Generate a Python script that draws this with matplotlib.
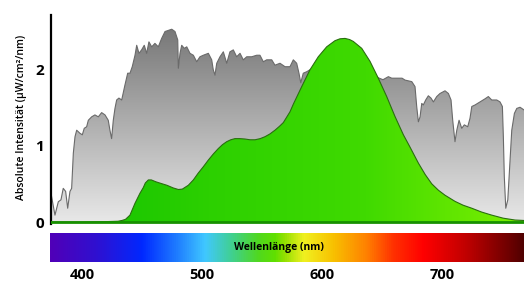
import numpy as np
import matplotlib
matplotlib.use("Agg")
import matplotlib.pyplot as plt
from matplotlib.colors import LinearSegmentedColormap

plt.rcParams['font.family'] = ['Open Sans', 'DejaVu Sans']

# solar spectrum (grey)
sun_nm = [374.2, 377.5, 380.3, 382.5, 384.4, 386.4, 388.1, 390, 391.4, 392.8, 394.2, 395.6,
          398.3, 400.3, 401.9, 403.9, 405.3, 408.1, 410.8, 413.6, 416.4, 419.2, 421.9, 423.3,
          424.7, 426.1, 427.5, 428.9, 430.8, 433.1, 435.8, 438.1, 440, 441.9, 444.2, 445.6,
          447.5, 449.7, 451.9, 453.9, 455.8, 458.1, 460.8, 463.6, 466.4, 469.2, 474.8, 477.5,
          479.8, 480.3, 481.7, 483.1, 485.3, 487.3, 490, 492.8, 495.6, 498.3, 501.1, 505.3,
          508.1, 509.4, 510.8, 512.3, 515, 517.8, 520.6, 523.3, 526.1, 528.9, 531.7, 534.4,
          537.3, 541.4, 545.6, 548.3, 551.1, 553.9, 558.1, 560.8, 565, 569.2, 573.3, 576.1,
          578.9, 580.8, 582.3, 584.4, 587.3, 590, 600, 620, 640, 650.8, 655.3, 658.1, 660.8,
          663.6, 666.7, 669.2, 674.8, 677.5, 678.9, 680.3, 681.7, 683.1, 684.4, 686.4, 688.6,
          690.8, 692.8, 695.6, 698.3, 702.5, 705.3, 707.5, 708.9, 710.8, 712.3, 714.2, 716.4,
          718.6, 721.4, 723.3, 724.8, 727.5, 731.7, 735.8, 738.6, 741.4, 745.6, 748.3, 750.3,
          751.1, 751.9, 753.1, 754.8, 756.7, 758.1, 760.3, 762.3, 765, 768.3]
sun_val = [0.375, 0.09, 0.265, 0.29, 0.44, 0.40, 0.18, 0.40, 0.44, 0.90, 1.115, 1.20,
           1.16, 1.14, 1.225, 1.245, 1.33, 1.375, 1.40, 1.375, 1.43, 1.40, 1.33, 1.20,
           1.09, 1.33, 1.485, 1.595, 1.62, 1.595, 1.79, 1.945, 1.945, 2.03, 2.18, 2.31,
           2.205, 2.25, 2.31, 2.205, 2.355, 2.29, 2.335, 2.29, 2.40, 2.49, 2.52, 2.49,
           2.38, 2.01, 2.205, 2.31, 2.27, 2.29, 2.205, 2.18, 2.095, 2.16, 2.18, 2.205,
           2.12, 1.99, 1.92, 2.075, 2.16, 2.225, 2.075, 2.225, 2.25, 2.16, 2.205, 2.12,
           2.16, 2.16, 2.18, 2.18, 2.095, 2.12, 2.12, 2.05, 2.075, 2.03, 2.03, 2.12,
           2.075, 1.945, 1.82, 1.945, 1.965, 1.99, 1.97, 1.95, 1.93, 1.86, 1.90, 1.88, 1.88,
           1.88, 1.88, 1.855, 1.835, 1.77, 1.51, 1.31, 1.375, 1.55, 1.53, 1.595, 1.65,
           1.62, 1.57, 1.64, 1.68, 1.715, 1.68, 1.595, 1.33, 1.05, 1.20, 1.33, 1.225,
           1.27, 1.245, 1.355, 1.51, 1.53, 1.57, 1.61, 1.64, 1.595, 1.595, 1.57, 1.51,
           1.115, 0.59, 0.18, 0.29, 0.81, 1.20, 1.42, 1.485, 1.50, 1.465]

# lamp spectrum (green)
lamp_nm = [374.2, 400, 420, 430, 433.3, 436.3, 440, 444.2, 448.3, 451.1, 452.8, 455.3,
           457.8, 461.7, 466.7, 470.8, 476.1, 480.3, 483.6, 488.6, 492.8, 496.9, 501, 505.3,
           509.5, 513.6, 517, 520.6, 524, 527.5, 531.5, 535.8, 540, 544.2, 548.5, 552.5,
           556.5, 560.8, 564.5, 567.8, 573.3, 576.1, 583.1, 590, 596.9, 603.9, 610.8,
           615, 619.2, 623, 626.1, 633.1, 640, 646.9, 653.9, 660.8, 667.8, 673.3, 680.3,
           686, 691.4, 697, 702.5, 710.8, 717.5, 724.8, 733, 741.4, 751, 760.8, 768.3]
lamp_val = [0.0, 0.0, 0.005, 0.01, 0.02, 0.035, 0.09, 0.245, 0.375, 0.45, 0.51, 0.55,
            0.55, 0.525, 0.50, 0.48, 0.445, 0.425, 0.43, 0.48, 0.55, 0.64, 0.72, 0.81,
            0.89, 0.96, 1.01, 1.05, 1.075, 1.09, 1.09, 1.085, 1.075, 1.075, 1.09, 1.115,
            1.15, 1.20, 1.25, 1.30, 1.44, 1.54, 1.77,
            1.99, 2.16, 2.29, 2.37, 2.395, 2.40, 2.385, 2.36, 2.27, 2.10, 1.88, 1.64, 1.38,
            1.14, 0.98, 0.77, 0.62, 0.50, 0.415, 0.35, 0.27, 0.22, 0.18, 0.13, 0.09, 0.05, 0.026, 0.02]

y_ticks = [0, 1, 2]
x_ticks = [400, 500, 600, 700]

# spectrum colour stops for the wavelength strip
strip_nm = [373.3, 410.8, 449.7, 480, 502.5, 524.7, 546.7, 560.8, 568.3, 585, 610,
            637.5, 660, 685, 720.8, 762.5, 768.3]
strip_col = ['#5000b8', '#3010d0', '#0028ff', '#2080ff', '#40c8ff', '#40d090', '#50d820',
             '#60e000', '#90e000', '#f0f020', '#f8c000', '#ff8000', '#ff3000', '#ff0000',
             '#c00000', '#600000', '#500000']

x0, x1 = 374.2, 768.3

fig = plt.figure(figsize=(5.24, 2.82), dpi=100)
ax = fig.add_axes([51/524, 1-224/282, 1-51/524, 209/282])
ax.set_xlim(x0, x1)
ax.set_ylim(-0.026, 2.706)

# grey area with vertical gradient
gray = ax.fill_between(sun_nm, 0, sun_val, color='none', lw=0)
gcmap = LinearSegmentedColormap.from_list('g', ['#e8e8e8', '#767676'])
im = ax.imshow(np.linspace(0, 1, 256)[:, None], extent=[x0, x1, 0, 2.55], origin='lower',
               aspect='auto', cmap=gcmap, zorder=1)
im.set_clip_path(gray.get_paths()[0], transform=ax.transData)
ax.plot(sun_nm, sun_val, color='#6a6a6a', lw=0.8, zorder=2)

# green area with horizontal gradient
green = ax.fill_between(lamp_nm, 0, lamp_val, color='none', lw=0)
lcmap = LinearSegmentedColormap.from_list('l', ['#10c000', '#2cd000', '#40da00', '#7cf000'])
im2 = ax.imshow(np.linspace(0, 1, 256)[None, :], extent=[x0, x1, 0, 2.5], origin='lower',
                aspect='auto', cmap=lcmap, zorder=3)
im2.set_clip_path(green.get_paths()[0], transform=ax.transData)
ax.plot(lamp_nm, lamp_val, color='#2a6e10', lw=0.8, zorder=4)
ax.axhline(0, color='#179000', lw=2, zorder=5)

for s in ['top', 'right', 'bottom']:
    ax.spines[s].set_visible(False)
ax.spines['left'].set_linewidth(1.6)
ax.spines['left'].set_color('black')
ax.set_xticks([])
ax.set_yticks(y_ticks)
ax.set_yticklabels([str(t) for t in y_ticks], fontsize=11, fontweight='bold')
ax.tick_params(axis='y', length=0, pad=5)

fig.text(22/524, 1-117.5/282, 'Absolute Intensität (µW/cm²/nm)', rotation=90,
         ha='center', va='center', fontsize=7.5, fontweight='semibold')

# wavelength strip
cax = fig.add_axes([50/524, 1-262/282, 474/524, 29/282])
scmap = LinearSegmentedColormap.from_list(
    's', [((n - strip_nm[0]) / (strip_nm[-1] - strip_nm[0]), c) for n, c in zip(strip_nm, strip_col)])
cax.imshow(np.linspace(0, 1, 512)[None, :], extent=[strip_nm[0], strip_nm[-1], 0, 1],
           aspect='auto', cmap=scmap)
cax.set_xlim(strip_nm[0], strip_nm[-1])
cax.set_ylim(0, 1)
for s in cax.spines.values():
    s.set_visible(False)
cax.set_yticks([])
cax.set_xticks(x_ticks)
cax.set_xticklabels([str(t) for t in x_ticks], fontsize=10.5, fontweight='bold')
cax.tick_params(axis='x', length=0, pad=4)
cax.text(0.483, 0.5, 'Wellenlänge (nm)', transform=cax.transAxes, ha='center', va='center',
         fontsize=7.5, fontweight='bold')

fig.savefig('out.png', dpi=100)
